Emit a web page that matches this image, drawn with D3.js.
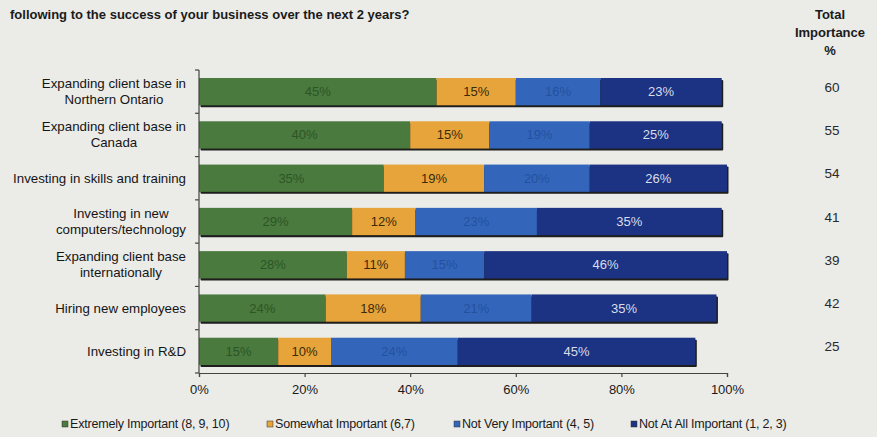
<!DOCTYPE html>
<html><head><meta charset="utf-8">
<script src="https://cdn.jsdelivr.net/npm/d3@7/dist/d3.min.js"></script>
<style>
html,body{margin:0;padding:0;background:#ebebe8;}
svg{display:block;font-family:"Liberation Sans",Arial,sans-serif;}
</style></head>
<body><svg id="c" width="877" height="437"></svg>
<script>
const titleLine = "following to the success of your business over the next 2 years?";
const categories = [
  ["Expanding client base in","Northern Ontario"],
  ["Expanding client base in","Canada"],
  ["Investing in skills and training"],
  ["Investing in new","computers/technology"],
  ["Expanding client base","internationally"],
  ["Hiring new employees"],
  ["Investing in R&D"]
];
const seriesNames = ["Extremely Important (8, 9, 10)","Somewhat Important (6,7)","Not Very Important (4, 5)","Not At All Important (1, 2, 3)"];
const extremely = [45,40,35,29,28,24,15];
const somewhat  = [15,15,19,12,11,18,10];
const notVery   = [16,19,20,23,15,21,24];
const notAtAll  = [23,25,26,35,46,35,45];
const totalImportance = [60,55,54,41,39,42,25];
const totalHeader = ["Total","Importance","%"];
const xTicks = [0,20,40,60,80,100];

const colors = ["#4a7a3d","#e6a43a","#3366bb","#1c3282"];
const labelColors = ["#2d5527","#3a2a0a","#24519e","#d8deea"];

const svg = d3.select("#c");
const m = {l:199, r:727, t:70, b:373};
const x = d3.scaleLinear().domain([0,100]).range([m.l,m.r]);
const y = d3.scaleBand().domain(d3.range(categories.length)).range([m.t,m.b]).paddingInner(0.37).paddingOuter(0.185);

const series = [extremely,somewhat,notVery,notAtAll];

// title
svg.append("text").attr("x",10).attr("y",19).attr("font-size",13).attr("font-weight","bold").attr("fill","#1a1a1a").text(titleLine);
// total header
totalHeader.forEach((t,i)=>{
  svg.append("text").attr("x",830).attr("y",19+i*18).attr("text-anchor","middle").attr("font-size",13).attr("font-weight","bold").attr("fill","#1a1a1a").text(t);
});

// bars
const rows = svg.append("g");
categories.forEach((c,i)=>{
  const total = d3.sum(series, s=>s[i]);
  rows.append("rect").attr("x",x(0)+1.5).attr("y",y(i)+2).attr("width",x(total)-x(0)).attr("height",y.bandwidth()).attr("fill","#1e1e1e").attr("rx",1);
  let cum = 0;
  series.forEach((s,k)=>{
    const v = s[i];
    rows.append("rect").attr("x",x(cum)).attr("y",y(i)).attr("width",x(cum+v)-x(cum)).attr("height",y.bandwidth()).attr("fill",colors[k]);
    rows.append("text").attr("x",(x(cum)+x(cum+v))/2).attr("y",y(i)+y.bandwidth()/2+4.5)
      .attr("text-anchor","middle").attr("font-size",13).attr("fill",labelColors[k]).text(v+"%");
    cum += v;
  });
  svg.append("text").attr("x",832).attr("y",y(i)+y.bandwidth()/2).attr("text-anchor","middle").attr("font-size",13.5).attr("fill","#2a2a2a").text(totalImportance[i]);
});

// left axis
svg.append("line").attr("x1",m.l).attr("x2",m.l).attr("y1",m.t).attr("y2",m.b).attr("stroke","#444").attr("stroke-width",1.2);
for(let i=0;i<=categories.length;i++){
  const yy = m.t + i*(m.b-m.t)/categories.length;
  svg.append("line").attr("x1",m.l-4).attr("x2",m.l).attr("y1",yy).attr("y2",yy).attr("stroke","#444").attr("stroke-width",1.2);
}
// category labels
categories.forEach((lines,i)=>{
  const cy = y(i)+y.bandwidth()/2;
  const g = svg.append("g");
  const n = lines.length;
  const lh = 16;
  const texts = lines.map((t,j)=> g.append("text").attr("y",cy + (j-(n-1)/2)*lh + 4.5).attr("font-size",13.3).attr("fill","#151515").text(t));
  const widths = texts.map(t=>t.node().getComputedTextLength());
  const maxW = d3.max(widths);
  const cx = 186 - maxW/2;
  texts.forEach(t=>t.attr("x",cx).attr("text-anchor","middle"));
});

// x axis
const xa = svg.append("g").attr("transform",`translate(0,${m.b})`)
  .call(d3.axisBottom(x).tickValues(xTicks).tickFormat(d=>d+"%").tickSize(4).tickPadding(8));
xa.select(".domain").attr("stroke","#444").attr("stroke-width",1.2);
xa.selectAll(".tick line").attr("stroke","#444").attr("stroke-width",1.2);
xa.selectAll(".tick text").attr("font-size",13).attr("fill","#1a1a1a").attr("font-family","Liberation Sans, Arial, sans-serif");

// legend
const legX = [62,267,454,631];
seriesNames.forEach((nm,k)=>{
  svg.append("rect").attr("x",legX[k]).attr("y",421).attr("width",6).attr("height",6).attr("fill",colors[k]).attr("stroke","#333").attr("stroke-width",0.5);
  svg.append("text").attr("x",legX[k]+8).attr("y",428).attr("font-size",12.5).attr("letter-spacing","-0.2").attr("fill","#1a1a1a").text(nm);
});
</script></body></html>
